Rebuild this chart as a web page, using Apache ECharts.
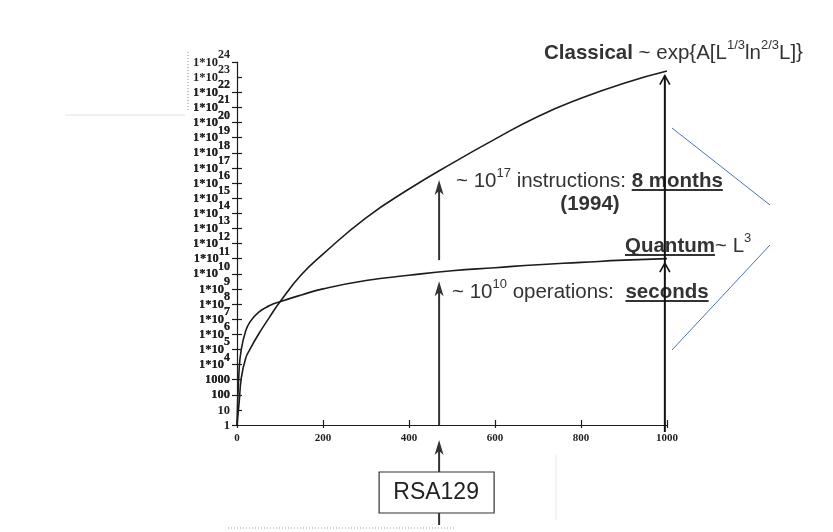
<!DOCTYPE html>
<html><head><meta charset="utf-8">
<script src="https://cdn.jsdelivr.net/npm/echarts@6/dist/echarts.min.js"></script>
<style>html,body{margin:0;padding:0;background:#fff}#c{width:833px;height:532px}</style>
</head><body><div id="c"></div>
<script>
// ---- data (y values are powers of ten: operations = 10^value) ----
const keyLengths     = [0, 5, 10, 20, 30, 50, 75, 100, 150, 200, 300, 400, 500, 600, 700, 800, 900, 1000];
const classicalLog10 = [0, 1.5, 3.1, 4.4, 5.0, 6.0, 7.1, 8.15, 9.95, 11.3, 13.7, 15.6, 17.3, 18.9, 20.4, 21.6, 22.6, 23.4];
const quantumLog10   = [0, 3.7, 5.0, 6.2, 6.8, 7.45, 7.88, 8.15, 8.6, 9.0, 9.55, 9.9, 10.2, 10.4, 10.6, 10.75, 10.9, 11.0];
const xTickLabels    = [0, 200, 400, 600, 800, 1000];
const yExpMin = 0, yExpMax = 24;             // 1 ... 1*10^24
const rsaLength = 470;                       // RSA129 key length marker
const rsaArrows = [[0, 9.5], [10.9, 16.2]];  // [from, to] exponents at rsaLength
const endLength = 995;
const endArrows = [[0, 10.7], [10.7, 23.1]]; // open arrows at right edge

const SANS = '"Liberation Sans", Arial, Helvetica, sans-serif';
const SERIF = '"Liberation Serif", "Times New Roman", serif';
const INK = '#1c1c1c';
const FS = 20.5, SS = 13;

const chart = echarts.init(document.getElementById('c'), null, {renderer: 'canvas'});

function yLabel(e) {
  if (e < 4) return '{p|' + Math.pow(10, e) + '}';
  return '{b|1*10}{s|' + e + '}';
}
const labelRich = {
  p: {fontFamily: SERIF, fontSize: 12.5, fontWeight: 'bold', color: '#222', lineHeight: 14, verticalAlign: 'bottom', padding: [6, 0, 0, 0]},
  b: {fontFamily: SERIF, fontSize: 12.5, fontWeight: 'bold', color: '#222', lineHeight: 14, verticalAlign: 'bottom'},
  s: {fontFamily: SERIF, fontSize: 12, fontWeight: 'bold', color: '#222', lineHeight: 12, verticalAlign: 'bottom', padding: [0, 0, 8, 0]}
};
const labelBase = {show: true, hideOverlap: false, margin: 7, formatter: yLabel, rich: labelRich, align: 'right'};

const yCommon = {
  type: 'value', min: yExpMin, max: yExpMax, interval: 1, position: 'left', splitLine: {show: false}
};
const xCommon = {
  type: 'value', min: 0, max: 1000, interval: 200, position: 'bottom', splitLine: {show: false}
};

chart.setOption({
  animation: false,
  backgroundColor: '#fff',
  grid: {left: 237, top: 62, width: 430, height: 363, containLabel: false, outerBoundsMode: 'none'},
  xAxis: [
    Object.assign({}, xCommon, {
      axisLine: {show: true, lineStyle: {color: INK, width: 1.2}},
      axisTick: {show: true, inside: true, length: 5, lineStyle: {color: INK, width: 1.2}},
      axisLabel: {show: true, margin: 8, fontFamily: SERIF, fontSize: 11, fontWeight: 'bold', color: '#222',
        showMinLabel: true, showMaxLabel: true,
        formatter: v => xTickLabels.indexOf(v) >= 0 ? String(v) : ''}
    }),
    Object.assign({}, xCommon, {
      axisLine: {show: false},
      axisTick: {show: true, inside: false, length: 3, lineStyle: {color: INK, width: 1.2}},
      axisLabel: {show: false}
    })
  ],
  yAxis: [
    // even powers labelled here, ticks drawn outside
    Object.assign({}, yCommon, {
      axisLine: {show: true, lineStyle: {color: INK, width: 1.2}},
      axisTick: {show: true, inside: false, length: 5, interval: 0, lineStyle: {color: INK, width: 1.2}},
      axisLabel: Object.assign({}, labelBase, {interval: (i, v) => Number(v) % 2 === 0, showMinLabel: true, showMaxLabel: true})
    }),
    // odd powers labelled here, ticks drawn inside
    Object.assign({}, yCommon, {
      axisLine: {show: false},
      axisTick: {show: true, inside: true, length: 5, interval: 0, lineStyle: {color: INK, width: 1.2}},
      axisLabel: Object.assign({}, labelBase, {interval: (i, v) => Number(v) % 2 === 1, showMinLabel: false, showMaxLabel: false})
    })
  ],
  series: [
    {name: 'Classical', type: 'line', xAxisIndex: 0, yAxisIndex: 0, showSymbol: false, smooth: true,
     lineStyle: {color: INK, width: 1.6}, data: keyLengths.map((l, i) => [l, classicalLog10[i]])},
    {name: 'Quantum', type: 'line', xAxisIndex: 0, yAxisIndex: 0, showSymbol: false, smooth: true,
     lineStyle: {color: INK, width: 1.6}, data: keyLengths.map((l, i) => [l, quantumLog10[i]])}
  ]
});

// ---- annotations ----
const px = (x, y) => chart.convertToPixel({xAxisIndex: 0, yAxisIndex: 0}, [x, y]);
const mctx = document.createElement('canvas').getContext('2d');
function tw(text, size, bold) {
  mctx.font = (bold ? 'bold ' : '') + size + 'px ' + SANS;
  return mctx.measureText(text).width;
}
const g = [];
function filledArrow(x, y0, y1) {
  g.push({type: 'line', shape: {x1: x, y1: y0, x2: x, y2: y1 + 8}, style: {stroke: '#333', lineWidth: 2}, z: 10});
  g.push({type: 'polygon', shape: {points: [[x, y1], [x - 4.5, y1 + 15], [x, y1 + 11], [x + 4.5, y1 + 15]]}, style: {fill: '#333'}, z: 10});
}
function openArrow(x, y0, y1) {
  g.push({type: 'line', shape: {x1: x, y1: y0, x2: x, y2: y1}, style: {stroke: '#111', lineWidth: 2}, z: 10});
  g.push({type: 'polyline', shape: {points: [[x - 5, y1 + 9], [x, y1], [x + 5, y1 + 9]]}, style: {stroke: '#111', lineWidth: 1.6, fill: null}, z: 10});
}
rsaArrows.forEach(a => { const p0 = px(rsaLength, a[0]), p1 = px(rsaLength, a[1]); filledArrow(p0[0], p0[1], p1[1]); });
endArrows.forEach((a, i) => { const p0 = px(endLength, a[0]), p1 = px(endLength, a[1]); openArrow(p0[0], p0[1] + (i === 0 ? 7 : 0), p1[1]); });

// RSA129 box + arrow below the axis
const rx = px(rsaLength, 0)[0];
filledArrow(rx, 472, 440);
g.push({type: 'line', shape: {x1: rx, y1: 513, x2: rx, y2: 525}, style: {stroke: '#333', lineWidth: 2}});
g.push({type: 'rect', shape: {x: rx - 60, y: 472, width: 115, height: 41}, style: {fill: '#fff', stroke: '#333', lineWidth: 1.2}});
g.push({type: 'text', x: rx - 3, y: 493, style: {text: 'RSA129', font: '23px ' + SANS, fill: '#222', align: 'center', verticalAlign: 'middle'}});

// rich text helpers
const R = {
  n: {fontFamily: SANS, fontSize: FS, color: '#333', lineHeight: 24, verticalAlign: 'bottom'},
  b: {fontFamily: SANS, fontSize: FS, fontWeight: 'bold', color: '#333', lineHeight: 24, verticalAlign: 'bottom'},
  s: {fontFamily: SANS, fontSize: SS, color: '#333', lineHeight: 14, verticalAlign: 'bottom', padding: [0, 0, 12, 0]}
};
function richLine(x, y, tokens) {
  let text = '', cx = x;
  tokens.forEach(t => {
    const [k, s, ul] = t;
    text += '{' + k + '|' + s + '}';
    const w = tw(s, k === 's' ? SS : FS, k === 'b');
    if (ul) g.push({type: 'line', shape: {x1: cx, y1: y + 10, x2: cx + w, y2: y + 10}, style: {stroke: '#333', lineWidth: 1.8}, z: 5});
    cx += w;
  });
  g.push({type: 'text', x: x, y: y, z: 6, style: {text: text, rich: R, align: 'left', verticalAlign: 'middle', fill: '#333', font: FS + 'px ' + SANS}});
}
richLine(544, 52, [['b', 'Classical'], ['n', ' ~ exp'], ['n', '\u007BA[L'], ['s', '1/3'], ['n', 'ln'], ['s', '2/3'], ['n', 'L]\u007D']]);
richLine(456, 180, [['n', '~ 10'], ['s', '17'], ['n', ' instructions: '], ['b', '8 months', true]]);
g.push({type: 'text', x: 590, y: 204, style: {text: '(1994)', font: 'bold ' + FS + 'px ' + SANS, fill: '#333', align: 'center', verticalAlign: 'middle'}});
richLine(625, 245, [['b', 'Quantum', true], ['n', '~ L'], ['s', '3']]);
richLine(452, 291, [['n', '~ 10'], ['s', '10'], ['n', ' operations:  '], ['b', 'seconds', true]]);

// thin blue strokes on the right
g.push({type: 'line', shape: {x1: 672, y1: 128, x2: 770, y2: 205}, style: {stroke: '#4a72c0', lineWidth: 1}});
g.push({type: 'line', shape: {x1: 770, y1: 245, x2: 672, y2: 350}, style: {stroke: '#4a72c0', lineWidth: 1}});
// scan artefacts
g.push({type: 'line', shape: {x1: 188, y1: 52, x2: 188, y2: 112}, style: {stroke: '#888', lineWidth: 1, lineDash: [1, 2]}});
g.push({type: 'line', shape: {x1: 228, y1: 528, x2: 455, y2: 528}, style: {stroke: '#999', lineWidth: 1, lineDash: [1, 2]}});
g.push({type: 'line', shape: {x1: 65, y1: 115, x2: 185, y2: 115}, style: {stroke: '#f0f0f0', lineWidth: 2}});
g.push({type: 'line', shape: {x1: 556, y1: 455, x2: 556, y2: 520}, style: {stroke: '#f4f4f4', lineWidth: 2}});

chart.setOption({graphic: {elements: g}});
</script>
</body></html>
